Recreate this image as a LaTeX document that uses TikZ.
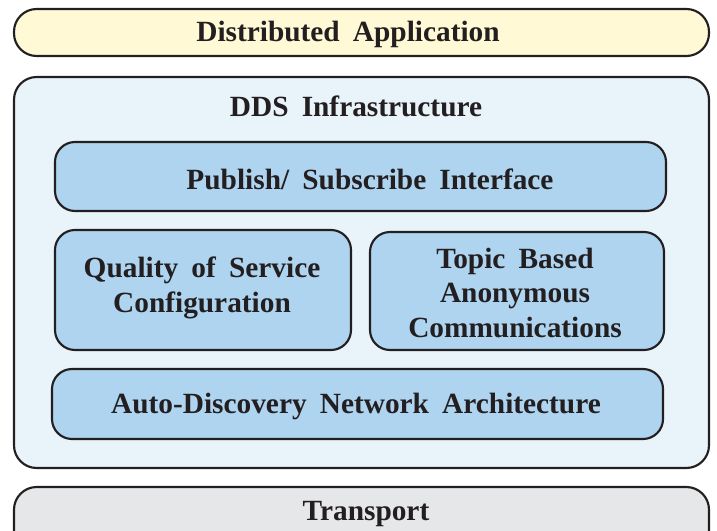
\documentclass[tikz,border=0pt]{standalone}
\usepackage{fontspec}
\setmainfont[WordSpace=1.8]{Liberation Serif}
\usepackage{tikz}
\usetikzlibrary{positioning}

\definecolor{appyellow}{HTML}{FFF9D6}
\definecolor{ddsblue}{HTML}{E8F3FA}
\definecolor{layerblue}{HTML}{AED4F0}
\definecolor{transgray}{HTML}{E6E7E8}
\definecolor{edgeblack}{HTML}{231F20}

\tikzset{
  layerbox/.style={draw=edgeblack, line width=1.6pt, rounded corners=15pt},
  layertext/.style={align=center, font=\fontsize{22}{26}\selectfont\bfseries, text=edgeblack}
}

\begin{document}
\begin{tikzpicture}[x=0.75pt,y=0.75pt,yscale=-1,xscale=1]
\useasboundingbox (0,0) rectangle (717,531);

%Rounded Rect [Distributed Application]
\draw[layerbox, fill=appyellow, rounded corners=17pt] (14,9) rectangle (709,56) ;

%Rounded Rect [DDS Infrastructure]
\draw[layerbox, fill=ddsblue, rounded corners=17pt] (14,77) rectangle (709,468) ;

%Rounded Rect [Publish/Subscribe]
\draw[layerbox, fill=layerblue] (55,142) rectangle (666,211) ;

%Rounded Rect [QoS]
\draw[layerbox, fill=layerblue] (55,230) rectangle (351,350) ;

%Rounded Rect [Topic]
\draw[layerbox, fill=layerblue] (370,232) rectangle (664,350) ;

%Rounded Rect [Auto-Discovery]
\draw[layerbox, fill=layerblue] (52,369) rectangle (663,439) ;

%Rounded Rect [Transport]
\draw[layerbox, fill=transgray, rounded corners=17pt] (14,487) rectangle (709,560) ;

% Text Node
\node[layertext] (app) at (348,34) {Distributed Application};
% Text Node
\node[layertext] (dds) at (356,106) {DDS Infrastructure};
% Text Node
\node[layertext] (pubsub) at (370,179) {Publish/ Subscribe Interface};
% Text Node
\node[layertext] (qos) at (202,288) {Quality of Service\\Configuration};
% Text Node
\node[layertext] (topic) at (515,293) {Topic Based\\Anonymous\\Communications};
% Text Node
\node[layertext] (autodisc) at (356,406) {Auto-Discovery Network Architecture};
% Text Node
\node[layertext] (transport) at (366,514) {Transport};
\end{tikzpicture}
\end{document}
